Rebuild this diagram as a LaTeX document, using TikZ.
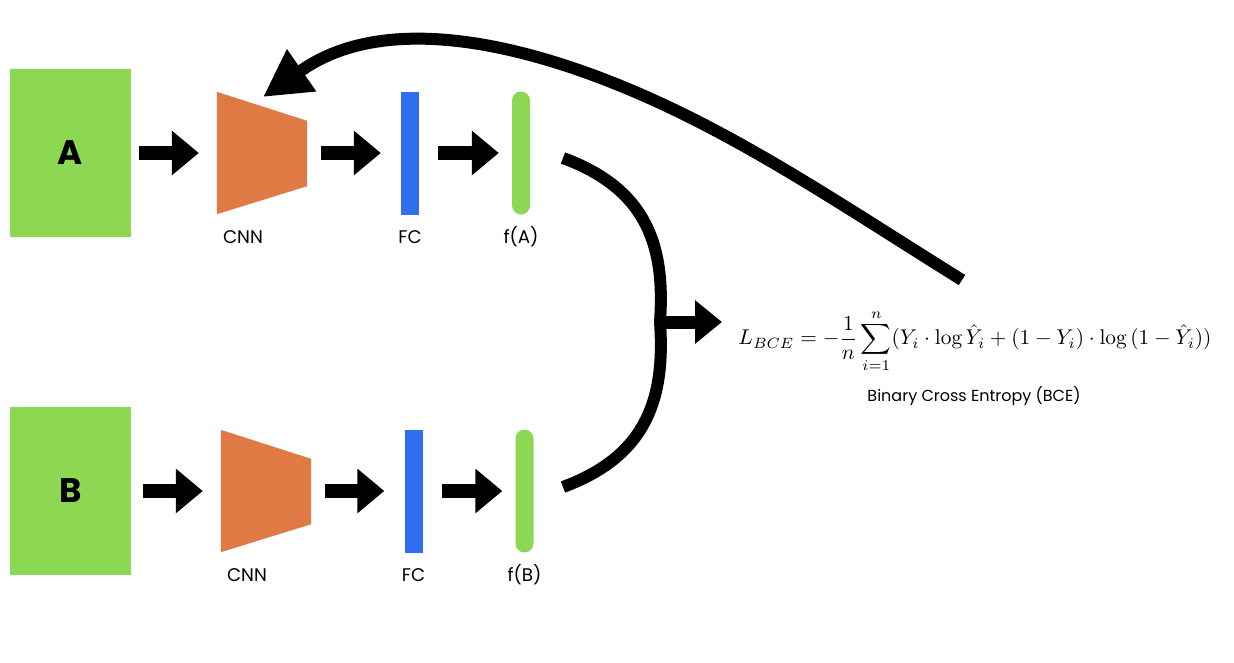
\documentclass[tikz,border=0pt]{standalone}
\usepackage{fontspec}
\usepackage{graphicx}
\newfontfamily\pop{Poppins}
\usetikzlibrary{arrows.meta}
\definecolor{boxgreen}{HTML}{8DD853}
\definecolor{cnnorange}{HTML}{DF7A44}
\definecolor{fcblue}{HTML}{2F6EF1}
\begin{document}
\begin{tikzpicture}[x=1pt,y=-1pt,
  inbox/.style={fill=boxgreen, minimum width=121pt, minimum height=168pt, inner sep=0pt,
    font=\pop\bfseries\fontsize{34}{34}\selectfont},
  cnnbox/.style={minimum width=90pt, minimum height=122pt, inner sep=0pt},
  fcbar/.style={fill=fcblue, minimum width=18pt, minimum height=123pt, inner sep=0pt},
  fbar/.style={fill=boxgreen, minimum width=18pt, minimum height=123pt, inner sep=0pt, rounded corners=9pt},
  lbl/.style={font=\pop\fontsize{18.3}{20}\selectfont, inner sep=0pt, anchor=base},
  blk/.style={line width=14pt, -{Triangle[length=27pt,width=43pt]}},
  curve/.style={line width=12pt},
  bigarrow/.style={line width=12pt, -{Triangle[length=47pt,width=48pt]}}]
\useasboundingbox (0,0) rectangle (1234,662);

% row A
\node[inbox] (A) at (70.5,153) {A};
\node[cnnbox] (cnnA) at (262,153) {};
\fill[cnnorange] (cnnA.north west) -- ([yshift=-29pt]cnnA.north east) -- ([yshift=28pt]cnnA.south east) -- (cnnA.south west) -- cycle;
\node[fcbar] (fcA) at (410,153) {};
\node[fbar] (fA) at (521,153) {};
\node[lbl] (cnnAl) at ([xshift=-19pt,yshift=-29pt]cnnA.south) {CNN};
\node[lbl] (fcAl) at ([yshift=-29pt]fcA.south) {FC};
\node[lbl] (fAl) at ([yshift=-29pt]fA.south) {f(A)};
\draw[blk] ([xshift=8pt]A.east) -- ([xshift=-18pt]cnnA.west);
\draw[blk] ([xshift=14pt]cnnA.east) -- ([xshift=-20pt]fcA.west);
\draw[blk] ([xshift=19pt]fcA.east) -- ([xshift=-13pt]fA.west);

% row B
\node[inbox] (B) at (70.5,491) {B};
\node[cnnbox] (cnnB) at (266,491) {};
\fill[cnnorange] (cnnB.north west) -- ([yshift=-29pt]cnnB.north east) -- ([yshift=28pt]cnnB.south east) -- (cnnB.south west) -- cycle;
\node[fcbar] (fcB) at (413.5,491) {};
\node[fbar] (fB) at (524.5,491) {};
\node[lbl] (cnnBl) at ([xshift=-19pt,yshift=-29pt]cnnB.south) {CNN};
\node[lbl] (fcBl) at ([yshift=-29pt]fcB.south) {FC};
\node[lbl] (fBl) at ([yshift=-29pt]fB.south) {f(B)};
\draw[blk] ([xshift=12pt]B.east) -- ([xshift=-18pt]cnnB.west);
\draw[blk] ([xshift=14pt]cnnB.east) -- ([xshift=-20pt]fcB.west);
\draw[blk] ([xshift=19pt]fcB.east) -- ([xshift=-13pt]fB.west);

% loss
\node[inner sep=0pt] (loss) at (975,341) {\resizebox{473pt}{!}{$\displaystyle L_{BCE} = -\frac{1}{n}\sum_{i=1}^{n}(Y_i\cdot\log\hat{Y}_i+(1-Y_i)\cdot\log\,(1-\hat{Y}_i))$}};
\node[lbl, font=\pop\fontsize{16}{18}\selectfont] (bce) at (974,401) {Binary Cross Entropy (BCE)};

% brace
\coordinate (fAo) at (563,158);
\coordinate (fBo) at (563,487);
\coordinate (join) at (660,322);
\coordinate (lossIn) at (722,322);
\draw[curve] (fAo) .. controls (650,190) and (665,250) .. (join) .. controls (665,394) and (650,455) .. (fBo);
\draw[line width=13pt, -{Triangle[length=27pt,width=42pt]}] (join) -- (lossIn);

% feedback arrow
\coordinate (fbStart) at (962,280);
\coordinate (fbMid) at (660,103);
\coordinate (fbBase) at (302,70);
\coordinate (cnnTip) at (263,97);
\draw[bigarrow] (fbStart) .. controls (859,216) and (762,150) .. (fbMid)
  .. controls (541,48) and (392,8) .. (fbBase) -- (cnnTip);
\end{tikzpicture}
\end{document}
